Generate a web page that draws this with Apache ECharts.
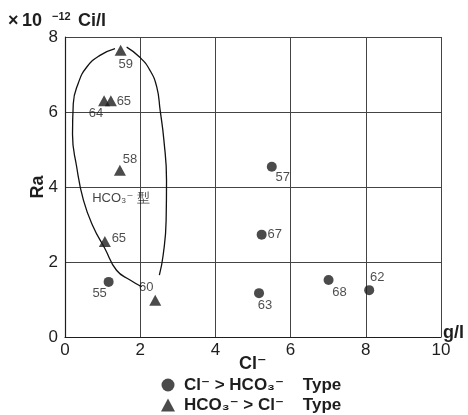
<!DOCTYPE html>
<html>
<head>
<meta charset="utf-8">
<script src="https://cdn.jsdelivr.net/npm/echarts@6/dist/echarts.min.js"></script>
<style>
  html, body { margin: 0; background: #fff; }
  #chart { width: 468px; height: 415px; }
</style>
</head>
<body>
<div id="chart"></div>
<script>
// Cl- (g/l) against Ra (x10^-12 Ci/l)
const clTypeNames = ['55', '57', '67', '63', '68', '62']
const clTypeCl = [1.16, 5.5, 5.23, 5.16, 7.01, 8.09]
const clTypeRa = [1.47, 4.54, 2.73, 1.17, 1.52, 1.25]

const hco3TypeNames = ['59', '64', '65', '58', '65', '60']
const hco3TypeCl = [1.48, 1.04, 1.22, 1.46, 1.06, 2.4]
const hco3TypeRa = [7.65, 6.3, 6.3, 4.45, 2.55, 0.98]

// hand drawn loop round the HCO3 type springs (broken at the top)
const loopLeftCl = [2.04, 1.73, 1.37, 1.06, 0.75, 0.49, 0.31, 0.2, 0.22, 0.35, 0.58, 0.93, 1.33]
const loopLeftRa = [1.34, 1.52, 1.78, 2.36, 2.94, 3.65, 4.54, 5.4, 6.22, 6.76, 7.2, 7.51, 7.69]
const loopRightCl = [1.64, 1.99, 2.26, 2.44, 2.53, 2.63, 2.7, 2.69, 2.61, 2.51]
const loopRightRa = [7.73, 7.46, 7.11, 6.67, 6.05, 5.25, 4.18, 3.12, 2.18, 1.65]

const xTicks = [0, 2, 4, 6, 8, 10]
const yTicks = [0, 2, 4, 6, 8]

// label offsets (px) from each marker
const clLabelOffset = [[-9, 12], [11, 11], [13, 0], [6, 12], [11, 12], [8, -13]]
const hco3LabelOffset = [[5, 14], [-8, 13], [13, 1], [10, -11], [14, -3], [-9, -13]]

const FONT = '"Liberation Sans", "DejaVu Sans", sans-serif'
const INK = '#1e1e1e'
const legendCl = 'Cl⁻ > HCO₃⁻    Type'
const legendHco3 = 'HCO₃⁻ > Cl⁻    Type'

function points(xs, ys, names, offsets) {
  return xs.map((x, i) => ({
    name: names[i],
    value: [x, ys[i]],
    label: { offset: offsets[i] }
  }))
}

function note(text, left, top, size) {
  return {
    type: 'text',
    left: left,
    top: top,
    style: { text: text, fontSize: size, fontWeight: 'bold', fill: INK, fontFamily: FONT }
  }
}

const chart = echarts.init(document.getElementById('chart'))
chart.setOption({
  animation: false,
  textStyle: { fontFamily: FONT },
  grid: { left: 65, right: 27, top: 37, bottom: 78 },
  xAxis: {
    type: 'value',
    min: xTicks[0],
    max: xTicks[xTicks.length - 1],
    interval: 2,
    name: 'g/l',
    nameLocation: 'end',
    nameGap: 2,
    nameTextStyle: { fontSize: 18, fontWeight: 'bold', color: INK, verticalAlign: 'bottom', padding: [0, 0, -5, 0] },
    axisLine: { lineStyle: { color: INK, width: 1.2 } },
    axisTick: { show: false },
    axisLabel: { fontSize: 17, color: INK, margin: 5 },
    splitLine: { lineStyle: { color: '#444', width: 1 } }
  },
  yAxis: {
    type: 'value',
    min: yTicks[0],
    max: yTicks[yTicks.length - 1],
    interval: 2,
    name: 'Ra',
    nameLocation: 'middle',
    nameRotate: 90,
    nameGap: 18,
    nameMoveOverlap: false,
    nameTextStyle: { fontSize: 18, fontWeight: 'bold', color: INK },
    axisLine: { show: true, lineStyle: { color: INK, width: 1.2 } },
    axisTick: { show: false },
    axisLabel: { fontSize: 17, color: INK, margin: 7 },
    splitLine: { lineStyle: { color: '#444', width: 1 } }
  },
  legend: {
    data: [legendCl, legendHco3],
    orient: 'vertical',
    left: 161,
    top: 376,
    padding: 0,
    itemGap: 2,
    itemWidth: 14,
    itemHeight: 13,
    textStyle: { fontSize: 17, lineHeight: 18, fontWeight: 'bold', color: INK, fontFamily: FONT, padding: [0, 0, 0, 4] }
  },
  graphic: [
    note('×', 8, 12, 18),
    note('10', 22, 12, 18),
    note('−12', 52, 11, 11),
    note('Ci/l', 78, 12, 18),
    note('Cl⁻', 239, 355, 18)
  ],
  series: [
    {
      name: legendCl,
      type: 'scatter',
      symbol: 'circle',
      symbolSize: 10,
      itemStyle: { color: INK },
      label: { show: true, position: 'inside', formatter: '{b}', fontSize: 13, color: INK },
      data: points(clTypeCl, clTypeRa, clTypeNames, clLabelOffset)
    },
    {
      name: legendHco3,
      type: 'scatter',
      symbol: 'triangle',
      symbolSize: [12, 11],
      itemStyle: { color: INK },
      label: { show: true, position: 'inside', formatter: '{b}', fontSize: 13, color: INK },
      data: points(hco3TypeCl, hco3TypeRa, hco3TypeNames, hco3LabelOffset)
    },
    {
      name: 'loopLeft',
      type: 'line',
      smooth: 0.5,
      symbol: 'none',
      silent: true,
      lineStyle: { color: '#111', width: 1.3 },
      data: loopLeftCl.map((x, i) => [x, loopLeftRa[i]]),
      z: 1
    },
    {
      name: 'loopRight',
      type: 'line',
      smooth: 0.5,
      symbol: 'none',
      silent: true,
      lineStyle: { color: '#111', width: 1.3 },
      data: loopRightCl.map((x, i) => [x, loopRightRa[i]]),
      z: 1
    },
    {
      name: 'hco3Note',
      type: 'scatter',
      symbolSize: 0,
      silent: true,
      label: { show: true, position: 'inside', formatter: '{b}', fontSize: 13, color: '#111' },
      data: [{ name: 'HCO₃⁻ 型', value: [1.49, 3.7] }]
    }
  ]
})
</script>
</body>
</html>
